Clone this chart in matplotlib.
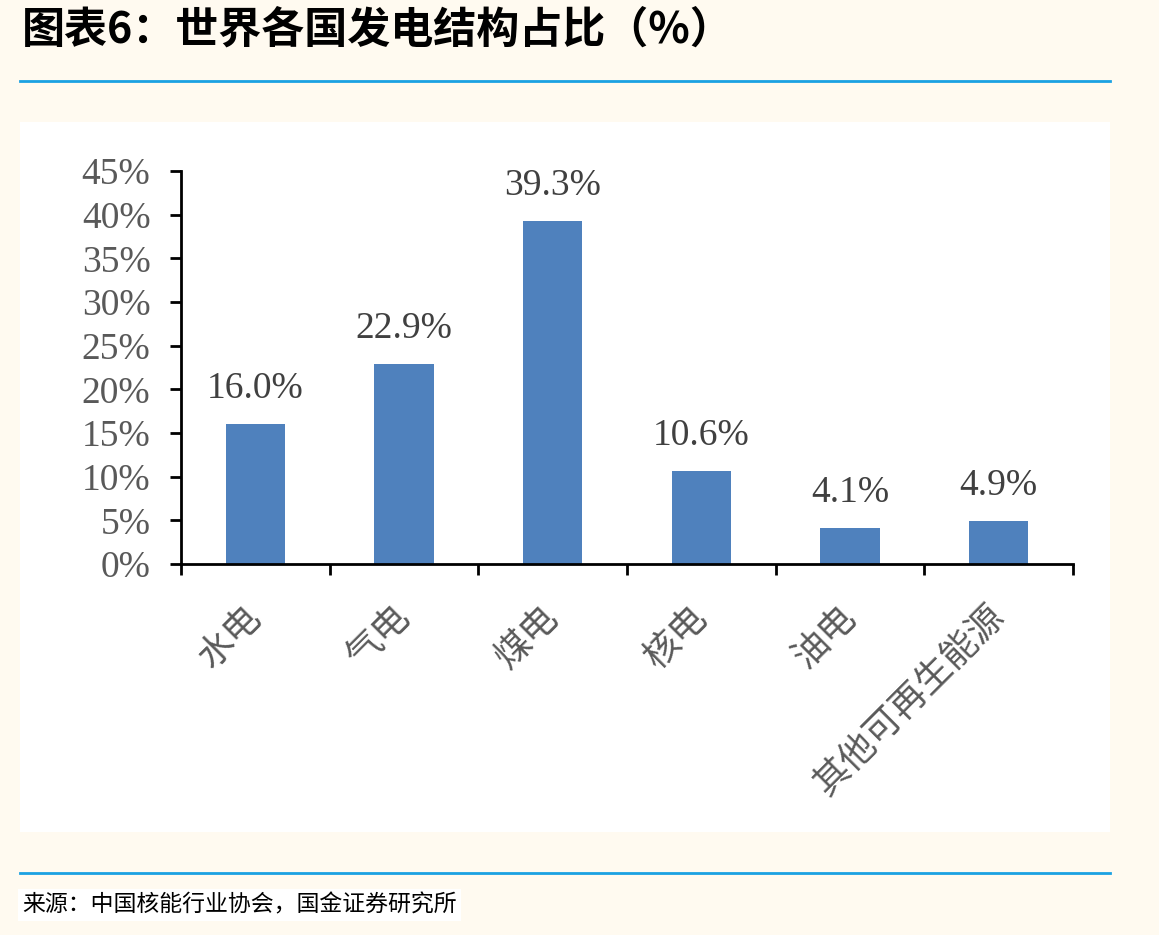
import matplotlib
matplotlib.use("Agg")
import matplotlib.pyplot as plt
from matplotlib.patches import Rectangle
from matplotlib.ticker import FixedLocator, FuncFormatter

# data
categories = ["水电", "气电", "煤电", "核电", "油电", "其他可再生能源"]
shares = [16.0, 22.9, 39.3, 10.6, 4.1, 4.9]
y_ticks = [0, 5, 10, 15, 20, 25, 30, 35, 40, 45]

title = "图表6：世界各国发电结构占比（%）"
source = "来源：中国核能行业协会，国金证券研究所"

W, H = 1159, 935
CJK = ["Noto Sans CJK SC", "DejaVu Sans"]
SERIF = ["Liberation Serif", "DejaVu Serif"]

fig = plt.figure(figsize=(W / 100, H / 100), dpi=100)
fig.patch.set_facecolor("#FFFAF0")


def fx(px):
    return px / W


def fy(py):
    return 1 - py / H


# white chart panel
fig.patches.append(Rectangle((fx(20), fy(832)), fx(1110) - fx(20), fy(122) - fy(832),
                             transform=fig.transFigure, facecolor="white",
                             edgecolor="none", zorder=-5))

# header / footer rules
for yy in (81, 873):
    fig.add_artist(plt.Line2D([fx(20), fx(1110)], [fy(yy), fy(yy)],
                              transform=fig.transFigure, color="#1BA1E2", lw=2))

fig.text(fx(22), fy(30), title, family=CJK, fontsize=31, fontweight="bold",
         color="black", va="center", ha="left")
fig.text(fx(22), fy(905), source, family=CJK, fontsize=16.5, color="black",
         va="center", ha="left",
         bbox=dict(facecolor="white", edgecolor="none", pad=3))

# axes
ax = fig.add_axes([fx(181), fy(564), fx(1073) - fx(181), fy(171) - fy(564)])
ax.set_facecolor("white")
x = list(range(len(categories)))
bars = ax.bar(x, shares, width=0.4, color="#4F81BD", zorder=2)

for xi, v in zip(x, shares):
    ax.annotate(f"{v:.1f}%", (xi, v), xytext=(0, 13), textcoords="offset points",
                ha="center", va="bottom", family=SERIF, fontsize=27,
                color="#404040")

ax.set_xlim(-0.5, len(categories) - 0.5)
ax.set_ylim(0, 45)
ax.yaxis.set_major_locator(FixedLocator(y_ticks))
ax.yaxis.set_major_formatter(FuncFormatter(lambda v, p: f"{v:.0f}%"))

ax.set_xticks(x)
ax.set_xticklabels(categories, family=CJK, fontsize=26, color="#595959",
                   rotation=45, ha="right", va="center",
                   rotation_mode="anchor")
ax.set_xticks([i - 0.5 for i in range(len(categories) + 1)], minor=True)
ax.tick_params(axis="x", which="major", length=0, pad=34)
ax.tick_params(axis="x", which="minor", length=8, width=2, direction="out",
               color="black")
ax.tick_params(axis="y", length=8, width=2, direction="out", color="black",
               pad=14, labelsize=27, labelcolor="#595959")
for lab in ax.get_yticklabels():
    lab.set_family(SERIF)

for side in ("top", "right"):
    ax.spines[side].set_visible(False)
for side in ("left", "bottom"):
    ax.spines[side].set_linewidth(2)
    ax.spines[side].set_color("black")

fig.savefig("out.png", dpi=100, facecolor=fig.get_facecolor())
